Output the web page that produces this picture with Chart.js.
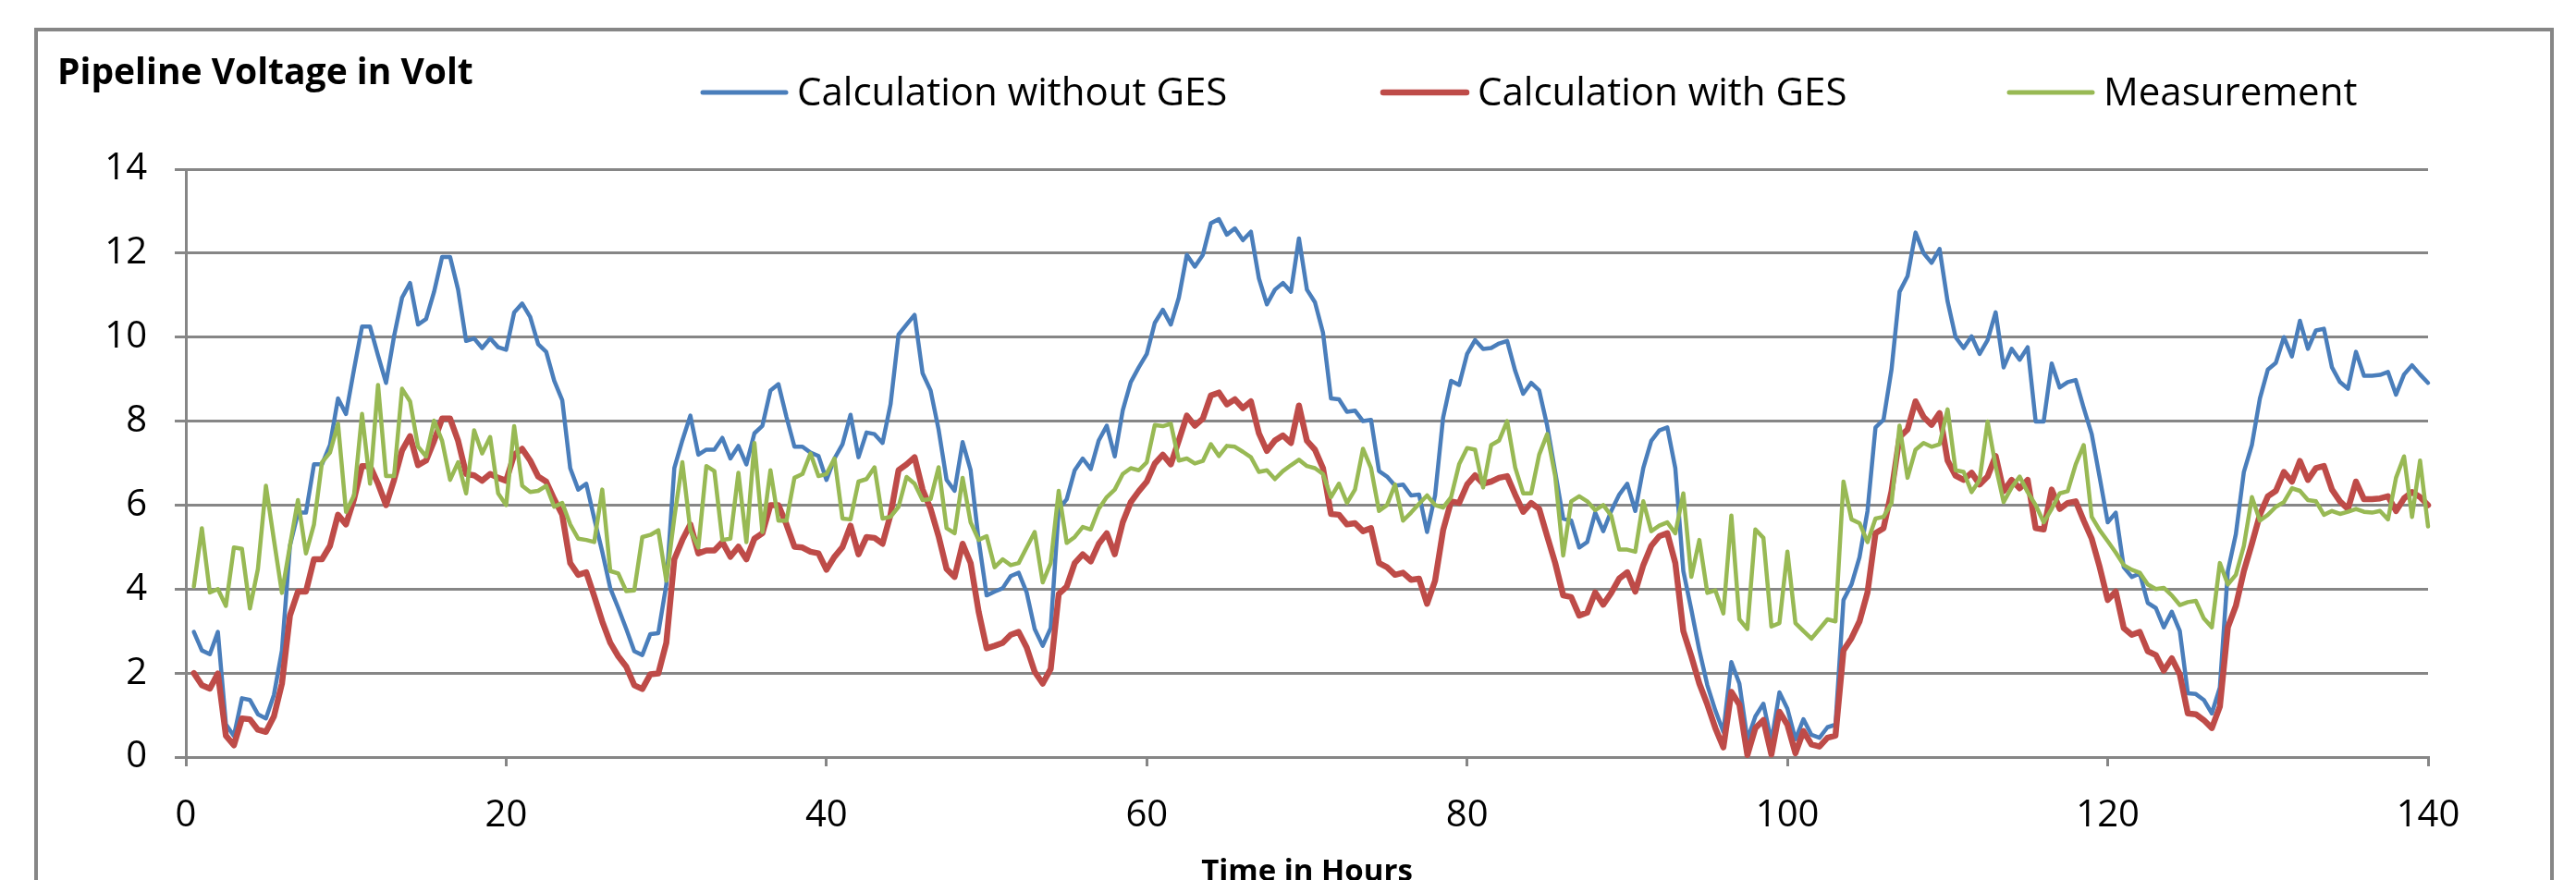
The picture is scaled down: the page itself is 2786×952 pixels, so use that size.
<!DOCTYPE html>
<html>
<head>
<meta charset="utf-8">
<title>Pipeline Voltage</title>
<script src="https://cdn.jsdelivr.net/npm/chart.js@4.4.1/dist/chart.umd.min.js"></script>
<style>
  html, body { margin: 0; padding: 0; background: #fff; }
  #wrap { width: 2786px; height: 952px; }
</style>
</head>
<body>
<div id="wrap"><canvas id="voltChart" width="2786" height="952"></canvas></div>
<script>
// time axis: one sample every half hour, 0.5 h .. 140.5 h
var hours = [];
for (var i = 1; i <= 281; i++) hours.push(i / 2);

var calcWithoutGes = [
    2.98, 2.54, 2.45, 2.98, 0.78, 0.5, 1.40, 1.36, 1.02, 0.92,
    1.48, 2.54, 5.03, 5.82, 5.82, 6.97, 6.97, 7.43, 8.54, 8.17,
    9.23, 10.25, 10.25, 9.56, 8.91, 10.02, 10.94, 11.29, 10.3, 10.43,
    11.08, 11.91, 11.91, 11.13, 9.91, 9.97, 9.74, 9.97, 9.76, 9.7,
    10.59, 10.8, 10.48, 9.83, 9.65, 8.96, 8.5, 6.88, 6.37, 6.51,
    5.68, 4.89, 4.02, 3.55, 3.05, 2.52, 2.43, 2.93, 2.95, 4.11,
    6.88, 7.54, 8.13, 7.2, 7.32, 7.32, 7.6, 7.11, 7.41, 6.97,
    7.71, 7.89, 8.73, 8.88, 8.1, 7.39, 7.39, 7.25, 7.17, 6.6,
    7.11, 7.45, 8.15, 7.14, 7.73, 7.69, 7.48, 8.4, 10.06, 10.3,
    10.53, 9.14, 8.73, 7.8, 6.6, 6.34, 7.5, 6.83, 5.17, 3.85,
    3.94, 4.02, 4.31, 4.39, 3.92, 3.05, 2.65, 3.07, 5.91, 6.14,
    6.83, 7.11, 6.86, 7.54, 7.89, 7.16, 8.26, 8.93, 9.28, 9.6,
    10.34, 10.65, 10.3, 10.94, 11.96, 11.68, 11.96, 12.71, 12.81, 12.44,
    12.59, 12.31, 12.51, 11.4, 10.78, 11.13, 11.29, 11.08, 12.35, 11.13,
    10.83, 10.11, 8.54, 8.52, 8.22, 8.25, 8.0, 8.03, 6.81, 6.68,
    6.46, 6.49, 6.23, 6.25, 5.36, 6.23, 8.08, 8.96, 8.86, 9.6,
    9.93, 9.72, 9.74, 9.85, 9.91, 9.2, 8.65, 8.91, 8.73, 7.89,
    6.79, 5.68, 5.63, 4.99, 5.12, 5.82, 5.38, 5.86, 6.25, 6.51,
    5.86, 6.88, 7.53, 7.78, 7.85, 6.88, 4.43, 3.51, 2.54, 1.71,
    1.11, 0.6, 2.26, 1.75, 0.42, 0.97, 1.27, 0.37, 1.54, 1.15,
    0.42, 0.9, 0.53, 0.46, 0.71, 0.77, 3.74, 4.11, 4.76, 5.86,
    7.85, 8.03, 9.23, 11.08, 11.45, 12.49, 12.0, 11.77, 12.1, 10.85,
    10.0, 9.74, 10.02, 9.6, 9.93, 10.59, 9.28, 9.72, 9.46, 9.76,
    7.99, 7.99, 9.37, 8.8, 8.93, 8.98, 8.31, 7.69, 6.65, 5.59,
    5.82, 4.52, 4.29, 4.37, 3.67, 3.55, 3.09, 3.46, 3.0, 1.52,
    1.5, 1.36, 1.04, 1.66, 4.43, 5.31, 6.79, 7.43, 8.54, 9.23,
    9.39, 10.0, 9.54, 10.39, 9.72, 10.16, 10.2, 9.28, 8.93, 8.77,
    9.65, 9.08, 9.08, 9.1, 9.17, 8.63, 9.11, 9.33, 9.11, 8.91,
    8.36
];

var calcWithGes = [
    2.0, 1.71, 1.63, 1.99, 0.51, 0.28, 0.92, 0.9, 0.65, 0.6,
    0.97, 1.75, 3.37, 3.94, 3.94, 4.71, 4.71, 5.03, 5.77, 5.54,
    6.14, 6.93, 6.93, 6.51, 6.0, 6.6, 7.3, 7.64, 6.95, 7.06,
    7.53, 8.06, 8.06, 7.53, 6.74, 6.71, 6.58, 6.74, 6.65, 6.58,
    7.2, 7.34, 7.06, 6.68, 6.56, 6.14, 5.77, 4.62, 4.34, 4.4,
    3.83, 3.23, 2.72, 2.4, 2.15, 1.71, 1.62, 1.97, 1.99, 2.72,
    4.71, 5.17, 5.54, 4.85, 4.92, 4.92, 5.12, 4.77, 5.01, 4.71,
    5.2, 5.33, 6.0, 6.0, 5.54, 5.01, 4.99, 4.89, 4.85, 4.46,
    4.77, 5.0, 5.51, 4.83, 5.24, 5.22, 5.08, 5.77, 6.83, 6.97,
    7.14, 6.37, 5.91, 5.26, 4.48, 4.29, 5.08, 4.62, 3.46, 2.59,
    2.65, 2.72, 2.91, 2.98, 2.61, 2.03, 1.75, 2.1, 3.88, 4.06,
    4.62, 4.83, 4.66, 5.08, 5.33, 4.83, 5.59, 6.07, 6.33, 6.56,
    6.99, 7.2, 6.97, 7.54, 8.13, 7.89, 8.06, 8.61, 8.68, 8.4,
    8.52, 8.31, 8.47, 7.71, 7.29, 7.54, 7.66, 7.48, 8.37, 7.53,
    7.32, 6.88, 5.79, 5.77, 5.54, 5.57, 5.38, 5.45, 4.62, 4.52,
    4.34, 4.39, 4.22, 4.25, 3.65, 4.2, 5.4, 6.09, 6.05, 6.49,
    6.71, 6.51, 6.56, 6.65, 6.69, 6.25, 5.84, 6.05, 5.91, 5.26,
    4.62, 3.85, 3.81, 3.37, 3.44, 3.92, 3.63, 3.91, 4.25, 4.4,
    3.94, 4.57, 5.03, 5.26, 5.33, 4.62, 3.0, 2.4, 1.75, 1.25,
    0.69, 0.23, 1.55, 1.25, 0.05, 0.69, 0.88, 0.06, 1.08, 0.77,
    0.09, 0.62, 0.3, 0.25, 0.46, 0.51, 2.54, 2.83, 3.23, 3.92,
    5.33, 5.45, 6.33, 7.62, 7.8, 8.47, 8.1, 7.91, 8.19, 7.06,
    6.7, 6.6, 6.77, 6.49, 6.68, 7.17, 6.33, 6.6, 6.4, 6.6,
    5.45, 5.42, 6.37, 5.91, 6.05, 6.09, 5.63, 5.2, 4.52, 3.74,
    3.94, 3.07, 2.91, 2.98, 2.52, 2.43, 2.06, 2.35, 1.97, 1.04,
    1.02, 0.88, 0.69, 1.2, 3.09, 3.6, 4.43, 5.08, 5.77, 6.21,
    6.34, 6.79, 6.56, 7.05, 6.6, 6.88, 6.93, 6.37, 6.09, 5.91,
    6.56, 6.14, 6.14, 6.16, 6.21, 5.86, 6.16, 6.31, 6.19, 6.0,
    5.63
];

var measurement = [
    4.06, 5.45, 3.92, 4.0, 3.6, 4.99, 4.96, 3.54, 4.48, 6.46,
    5.17, 3.91, 5.03, 6.12, 4.85, 5.54, 7.02, 7.25, 7.94, 5.84,
    6.23, 8.17, 6.51, 8.86, 6.69, 6.69, 8.77, 8.47, 7.39, 7.16,
    8.01, 7.53, 6.6, 7.02, 6.28, 7.78, 7.23, 7.62, 6.28, 6.0,
    7.88, 6.46, 6.31, 6.34, 6.46, 5.96, 6.05, 5.54, 5.2, 5.17,
    5.12, 6.37, 4.43, 4.37, 3.95, 3.97, 5.24, 5.29, 5.4, 4.2,
    5.7, 7.02, 5.4, 4.99, 6.93, 6.81, 5.17, 5.2, 6.77, 5.12,
    7.48, 5.36, 6.83, 5.63, 5.63, 6.65, 6.74, 7.23, 6.69, 6.74,
    7.11, 5.68, 5.66, 6.56, 6.62, 6.9, 5.68, 5.72, 5.96, 6.67,
    6.51, 6.12, 6.14, 6.9, 5.45, 5.33, 6.65, 5.59, 5.17, 5.26,
    4.52, 4.71, 4.57, 4.62, 4.99, 5.36, 4.16, 4.62, 6.34, 5.1,
    5.24, 5.48, 5.42, 5.91, 6.19, 6.37, 6.74, 6.88, 6.83, 7.02,
    7.91, 7.88, 7.94, 7.06, 7.11, 6.99, 7.05, 7.45, 7.17, 7.41,
    7.39, 7.27, 7.14, 6.79, 6.83, 6.62, 6.81, 6.95, 7.08, 6.93,
    6.88, 6.74, 6.19, 6.51, 6.05, 6.37, 7.34, 6.88, 5.86, 6.0,
    6.49, 5.63, 5.82, 6.03, 6.23, 6.0, 5.94, 6.19, 6.97, 7.36,
    7.32, 6.42, 7.43, 7.54, 8.0, 6.9, 6.28, 6.28, 7.2, 7.69,
    6.69, 4.8, 6.09, 6.21, 6.09, 5.88, 6.0, 5.75, 4.94, 4.94,
    4.89, 6.09, 5.38, 5.51, 5.59, 5.33, 6.28, 4.29, 5.17, 3.91,
    3.97, 3.42, 5.75, 3.28, 3.05, 5.42, 5.22, 3.11, 3.19, 4.89,
    3.19, 3.0, 2.82, 3.05, 3.28, 3.23, 6.56, 5.66, 5.57, 5.12,
    5.68, 5.72, 6.05, 7.89, 6.65, 7.32, 7.48, 7.39, 7.45, 8.28,
    6.83, 6.79, 6.31, 6.6, 7.99, 6.93, 6.07, 6.42, 6.68, 6.31,
    6.0, 5.59, 5.91, 6.28, 6.33, 6.97, 7.43, 5.72, 5.4, 5.14,
    4.87, 4.57, 4.46, 4.39, 4.11, 4.0, 4.03, 3.85, 3.62, 3.69,
    3.72, 3.3, 3.09, 4.62, 4.11, 4.34, 5.03, 6.19, 5.63, 5.77,
    5.96, 6.07, 6.4, 6.34, 6.12, 6.09, 5.77, 5.86, 5.79, 5.84,
    5.91, 5.84, 5.82, 5.86, 5.66, 6.65, 7.16, 5.72, 7.06, 5.49,
    6.56
];

var seriesNames = ['Calculation without GES', 'Calculation with GES', 'Measurement'];
var seriesColors = ['#4A7EBB', '#BE4B48', '#98B954'];
var yTitle = 'Pipeline Voltage in Volt';
var xTitle = 'Time in Hours';

var gridGray = '#868686';
var fontName = '"Open Sans", "Liberation Sans", sans-serif';

function toPoints(values) {
    return values.map(function (v, i) { return { x: hours[i], y: v }; });
}

// title, legend, x title and the outer frame are drawn by hand
var framePlugin = {
    id: 'frame',
    afterDraw: function (chart) {
        var c = chart.ctx;
        var area = chart.chartArea;
        c.save();
        c.strokeStyle = gridGray;
        c.lineWidth = 4;
        c.strokeRect(39, 32, 2721, 1000);

        c.fillStyle = '#000';
        c.textAlign = 'left';
        c.textBaseline = 'middle';
        c.font = 'bold 39px ' + fontName;
        c.fillText(yTitle, 62, 80);

        var legendX = [760, 1496, 2173];
        c.font = '42px ' + fontName;
        c.lineCap = 'round';
        for (var k = 0; k < 3; k++) {
            c.strokeStyle = seriesColors[k];
            c.lineWidth = k === 1 ? 6.5 : 5;
            c.beginPath();
            c.moveTo(legendX[k], 100);
            c.lineTo(legendX[k] + 90, 100);
            c.stroke();
            c.fillText(seriesNames[k], legendX[k] + 102, 102);
        }

        c.textAlign = 'center';
        c.textBaseline = 'alphabetic';
        c.font = 'bold 33px ' + fontName;
        c.fillText(xTitle, (area.left + area.right) / 2, 953);
        c.restore();
    }
};

var widths = [4.5, 6.5, 4.5];
var drawOrder = [3, 2, 1];
var allSeries = [calcWithoutGes, calcWithGes, measurement];

new Chart(document.getElementById('voltChart').getContext('2d'), {
    type: 'line',
    data: {
        datasets: allSeries.map(function (values, k) {
            return {
                label: seriesNames[k],
                data: toPoints(values),
                borderColor: seriesColors[k],
                backgroundColor: seriesColors[k],
                borderWidth: widths[k],
                order: drawOrder[k],
                clip: false
            };
        })
    },
    options: {
        responsive: false,
        animation: false,
        devicePixelRatio: 1,
        elements: {
            point: { radius: 0 },
            line: { tension: 0, borderJoinStyle: 'round', borderCapStyle: 'round' }
        },
        layout: { padding: { left: 0, right: 160, top: 183, bottom: 0 } },
        plugins: { legend: { display: false }, tooltip: { enabled: false } },
        scales: {
            x: {
                type: 'linear',
                min: 0,
                max: 140,
                ticks: { stepSize: 20, color: '#000', padding: 30, font: { family: fontName, size: 40 } },
                grid: { drawOnChartArea: false, drawTicks: true, tickLength: 10, color: gridGray, lineWidth: 3 },
                border: { color: gridGray, width: 3 },
                afterFit: function (s) { s.height = 133; }
            },
            y: {
                min: 0,
                max: 14,
                ticks: { stepSize: 2, color: '#000', padding: 30, font: { family: fontName, size: 40 } },
                grid: { color: gridGray, lineWidth: 3, tickLength: 12 },
                border: { color: gridGray, width: 3 },
                afterFit: function (s) { s.width = 201; }
            }
        }
    },
    plugins: [framePlugin]
});
</script>
</body>
</html>
